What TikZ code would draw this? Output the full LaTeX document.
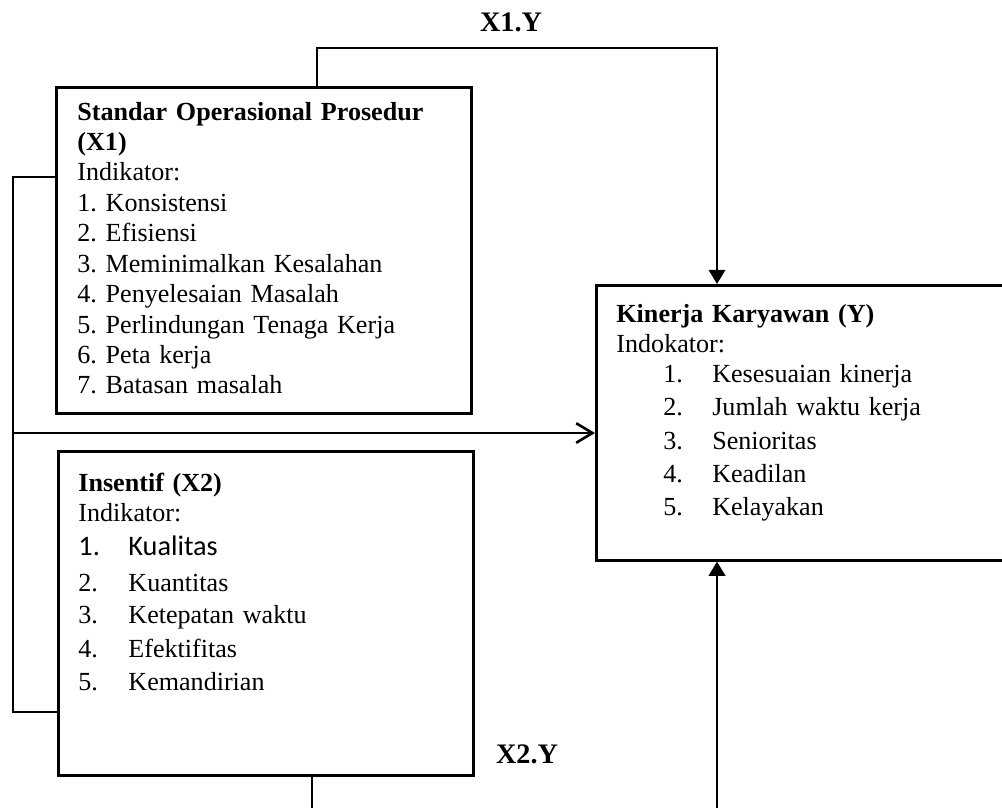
\documentclass[tikz,border=0pt]{standalone}
\usepackage{fontspec}
\setmainfont{Liberation Serif}
\newfontfamily\calibrifont{Carlito}
\usetikzlibrary{positioning,arrows.meta}
\frenchspacing

\begin{document}
\begin{tikzpicture}[
    x=0.46pt, y=-0.46pt,
    box/.style={draw, line width=1.2pt, anchor=north west, inner sep=0pt},
    body/.style={anchor=base west, inner sep=0pt, align=left, text width=185pt, font=\fontsize{12}{14}\selectfont},
    link/.style={line width=1.2pt},
    arrow/.style={line width=1.2pt, -{Triangle[length=6.5pt,width=7.5pt]}},
    openarrow/.style={line width=1.2pt, -{Straight Barb[length=7.5pt,width=9pt]}},
    pathlabel/.style={anchor=base, inner sep=0pt, font=\fontsize{13}{15}\selectfont\bfseries}
]
\path[use as bounding box, clip] (0,0) rectangle (1002,807);

\node[box, minimum width=415*0.46pt, minimum height=326*0.46pt] (sop) at (55,86) {};
\node[box, minimum width=415*0.46pt, minimum height=324*0.46pt] (insentif) at (57,450) {};
\node[box, minimum width=430*0.46pt, minimum height=275*0.46pt] (kinerja) at (595,284) {};

\node[body] (soptext) at (77,120) {\textbf{Standar Operasional Prosedur}\\
    \textbf{(X1)}\\
    Indikator:\\
    1. Konsistensi\\
    2. Efisiensi\\
    3. Meminimalkan Kesalahan\\
    4. Penyelesaian Masalah\\
    5. Perlindungan Tenaga Kerja\\
    6. Peta kerja\\
    7. Batasan masalah};
\node[body] (insentiftext) at (78,491) {\textbf{Insentif (X2)}\\
    Indikator:\\[1.6pt]
    {\calibrifont\fontsize{13}{14}\selectfont\makebox[23pt][l]{1.}Kualitas}\\[2.6pt]
    \makebox[23pt][l]{2.}Kuantitas\\[0.7pt]
    \makebox[23pt][l]{3.}Ketepatan waktu\\[1.6pt]
    \makebox[23pt][l]{4.}Efektifitas\\[1.2pt]
    \makebox[23pt][l]{5.}Kemandirian};
\node[body] (kinerjatext) at (616,322) {\textbf{Kinerja Karyawan (Y)}\\
    Indokator:\\[-0.4pt]
    \hspace*{21.6pt}\makebox[22.5pt][l]{1.}Kesesuaian kinerja\\[1.6pt]
    \hspace*{21.6pt}\makebox[22.5pt][l]{2.}Jumlah waktu kerja\\[1.6pt]
    \hspace*{21.6pt}\makebox[22.5pt][l]{3.}Senioritas\\[1.2pt]
    \hspace*{21.6pt}\makebox[22.5pt][l]{4.}Keadilan\\[1.2pt]
    \hspace*{21.6pt}\makebox[22.5pt][l]{5.}Kelayakan};

\node[pathlabel] (x1y) at (511,31) {X1.Y};
\node[pathlabel] (x2y) at (527,763) {X2.Y};

\coordinate (split) at (13,433);

\draw[arrow] (sop.north -| 317,0) -- (317,48) -| (kinerja.north -| 717,0);
\draw[link] (sop.west |- 0,177) -| (13,712) -- (insentif.west |- 0,712);
\draw[openarrow] (split) -- (split -| kinerja.west);
\draw[arrow] (insentif.south -| 312,0) -- (312,840) -| (kinerja.south -| 717,0);
\end{tikzpicture}
\end{document}
